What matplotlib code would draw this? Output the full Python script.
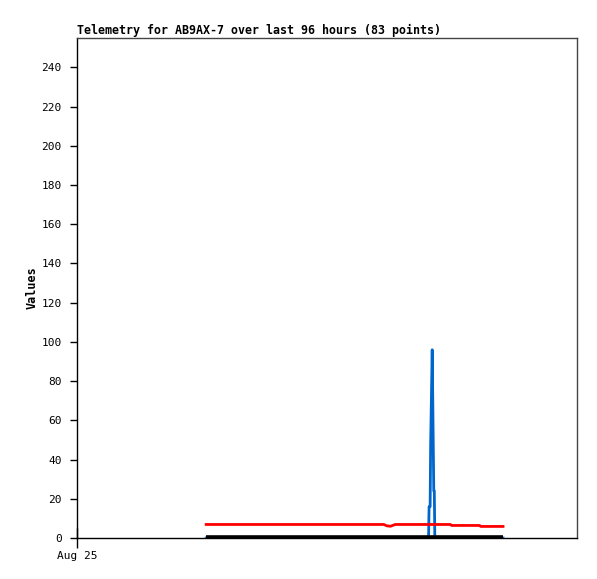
#!/usr/bin/env python3

import matplotlib
matplotlib.use('Agg')
import matplotlib.pyplot as plt

# hours since start of the window (Aug 25 at 0)
red_t = [24.8, 40.0, 58.9, 59.5, 60.2, 60.6, 61.1, 71.7, 71.9, 77.3, 77.5, 81.8]
red_v = [6.9, 6.9, 6.9, 6.2, 6.0, 6.4, 6.9, 6.9, 6.4, 6.4, 5.9, 5.9]

blue_t = [24.8, 67.5, 67.6, 67.8, 67.9, 68.1, 68.2, 68.3, 68.4, 68.5, 68.6, 68.7, 68.8, 81.8]
blue_v = [0.0, 0.0, 16.0, 16.0, 48.0, 80.0, 96.0, 72.0, 48.0, 24.0, 24.0, 0.0, 0.0, 0.0]

black_t = [24.8, 81.8]
black_v = [0.3, 0.3]

yticks = list(range(0, 241, 20))
xtick_pos = [0]
xtick_lbl = ['Aug 25']

mono = 'DejaVu Sans Mono'

fig = plt.figure(figsize=(5.97, 5.79), dpi=100)
ax = fig.add_axes([0.129, 0.0708, 0.8375, 0.8636])

ax.plot(blue_t, blue_v, color='#0066cc', linewidth=2.0, zorder=3)
ax.plot(black_t, black_v, color='black', linewidth=2.6, zorder=4, solid_capstyle='butt')
ax.plot(red_t, red_v, color='#ff0000', linewidth=2.0, zorder=5)

ax.set_xlim(0, 96)
ax.set_ylim(0, 255)
ax.set_yticks(yticks)
ax.set_yticklabels([str(v) for v in yticks], fontfamily=mono, fontsize=8)
ax.set_xticks(xtick_pos)
ax.set_xticklabels(xtick_lbl, fontfamily=mono, fontsize=8)
ax.tick_params(axis='y', direction='out', length=5, width=1, pad=6)
ax.tick_params(axis='x', direction='inout', length=14, width=1, pad=2)

for s in ax.spines.values():
    s.set_linewidth(1)
ax.spines['top'].set_color('#444444')
ax.spines['right'].set_color('#444444')

ax.set_ylabel('Values', fontfamily=mono, fontweight='bold', fontsize=8.5, labelpad=2)
ax.set_title('Telemetry for AB9AX-7 over last 96 hours (83 points)',
             loc='left', fontfamily=mono, fontweight='bold', fontsize=8.4, pad=3)

fig.savefig('out.png', dpi=100)
